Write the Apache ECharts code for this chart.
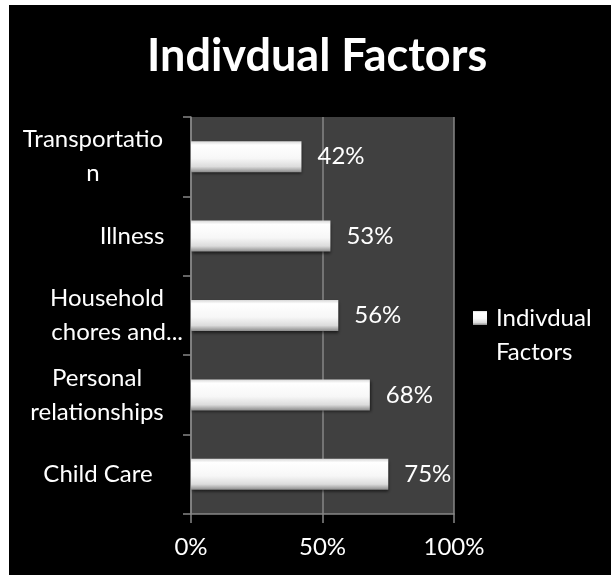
<!DOCTYPE html>
<html>
<head>
<meta charset="utf-8">
<script src="https://cdn.jsdelivr.net/npm/echarts@6/dist/echarts.min.js"></script>
<style>
html,body{margin:0;padding:0;background:#fff;}
#bg{position:absolute;left:9px;top:5px;width:602px;height:570px;background:#000;}
#chart{position:absolute;left:0;top:0;width:611px;height:575px;}
</style>
</head>
<body>
<div id="bg"></div>
<div id="chart"></div>
<script>
// Data (bottom to top, as drawn on the category axis)
var categories = ['Child Care', 'Personal relationships', 'Household chores and...', 'Illness', 'Transportation'];
var values = [75, 68, 56, 53, 42];
var seriesName = 'Indivdual Factors';
var titleText = 'Indivdual Factors';
var xTickLabels = ['0%', '50%', '100%'];
// Category label text as wrapped in the picture
var tickLabelText = {
  'Transportation': '{t|Transportatio}\n{t|n}',
  'Illness': '{i|Illness}',
  'Household chores and...': '{h1|Household}\n{h2|chores and...}',
  'Personal relationships': '{p|Personal}\n{p|relationships}',
  'Child Care': '{c|Child Care}'
};

var FONT = 'Lato';
var chart = echarts.init(document.getElementById('chart'), null, {renderer: 'canvas'});
var barGrad = new echarts.graphic.LinearGradient(0, 0, 0, 1, [
  {offset: 0, color: '#d8d8d8'},
  {offset: 0.12, color: '#ffffff'},
  {offset: 0.55, color: '#f7f7f7'},
  {offset: 0.82, color: '#dcdcdc'},
  {offset: 1, color: '#8c8c8c'}
]);
var lbl = {color: '#fff', fontFamily: FONT, fontSize: 24, lineHeight: 34};
chart.setOption({
  backgroundColor: 'transparent',
  title: {
    text: titleText,
    left: 142,
    top: 29,
    textStyle: {color: '#fff', fontFamily: FONT, fontWeight: 'bold', fontSize: 45}
  },
  legend: {
    data: [seriesName],
    orient: 'vertical',
    left: 468,
    top: 262,
    itemWidth: 14,
    itemHeight: 14,
    icon: 'rect',
    formatter: function () { return '{e| }\n{a|Indivdual}\n{a|Factors}'; },
    textStyle: {
      color: '#fff', fontFamily: FONT, fontSize: 24, lineHeight: 34, padding: [0, 0, 0, 4],
      rich: {
        e: {height: 34, lineHeight: 34, fontSize: 24},
        a: {color: '#fff', fontFamily: FONT, fontSize: 24, lineHeight: 34}
      }
    }
  },
  grid: {
    left: 190, right: 157, top: 117, bottom: 61,
    show: true, backgroundColor: '#404040', borderWidth: 0
  },
  xAxis: {
    type: 'value', min: 0, max: 100, interval: 50,
    axisLine: {show: true, lineStyle: {color: '#868686', width: 1.5}},
    axisTick: {show: true, length: 9, lineStyle: {color: '#868686', width: 1.5}},
    splitLine: {show: true, lineStyle: {color: '#868686', width: 1.5}},
    axisLabel: {
      margin: 21, color: '#fff', fontFamily: FONT, fontSize: 24,
      formatter: function (v) { return xTickLabels[Math.round(v / 50)]; }
    }
  },
  yAxis: {
    type: 'category', data: categories,
    axisLine: {show: true, lineStyle: {color: '#868686', width: 1.5}},
    axisTick: {show: true, length: 8, lineStyle: {color: '#868686', width: 1.5}},
    axisLabel: {
      margin: 8, align: 'right', color: '#fff', fontFamily: FONT, fontSize: 24, lineHeight: 34,
      formatter: function (v) { return tickLabelText[v] || v; },
      rich: {
        t: Object.assign({width: 180, align: 'center'}, lbl),
        i: Object.assign({width: 102, align: 'center'}, lbl),
        h1: Object.assign({width: 152, align: 'center'}, lbl),
        h2: Object.assign({align: 'right'}, lbl),
        p: Object.assign({width: 172, align: 'center'}, lbl),
        c: Object.assign({width: 170, align: 'center'}, lbl)
      }
    }
  },
  series: [{
    name: seriesName,
    type: 'bar',
    data: values,
    barWidth: 31,
    itemStyle: {color: barGrad, shadowColor: 'rgba(0,0,0,0.6)', shadowBlur: 3, shadowOffsetX: 1, shadowOffsetY: 2},
    label: {
      show: true, position: 'right', distance: 16,
      color: '#fff', fontFamily: FONT, fontSize: 24,
      formatter: '{c}%'
    }
  }]
});
</script>
</body>
</html>
